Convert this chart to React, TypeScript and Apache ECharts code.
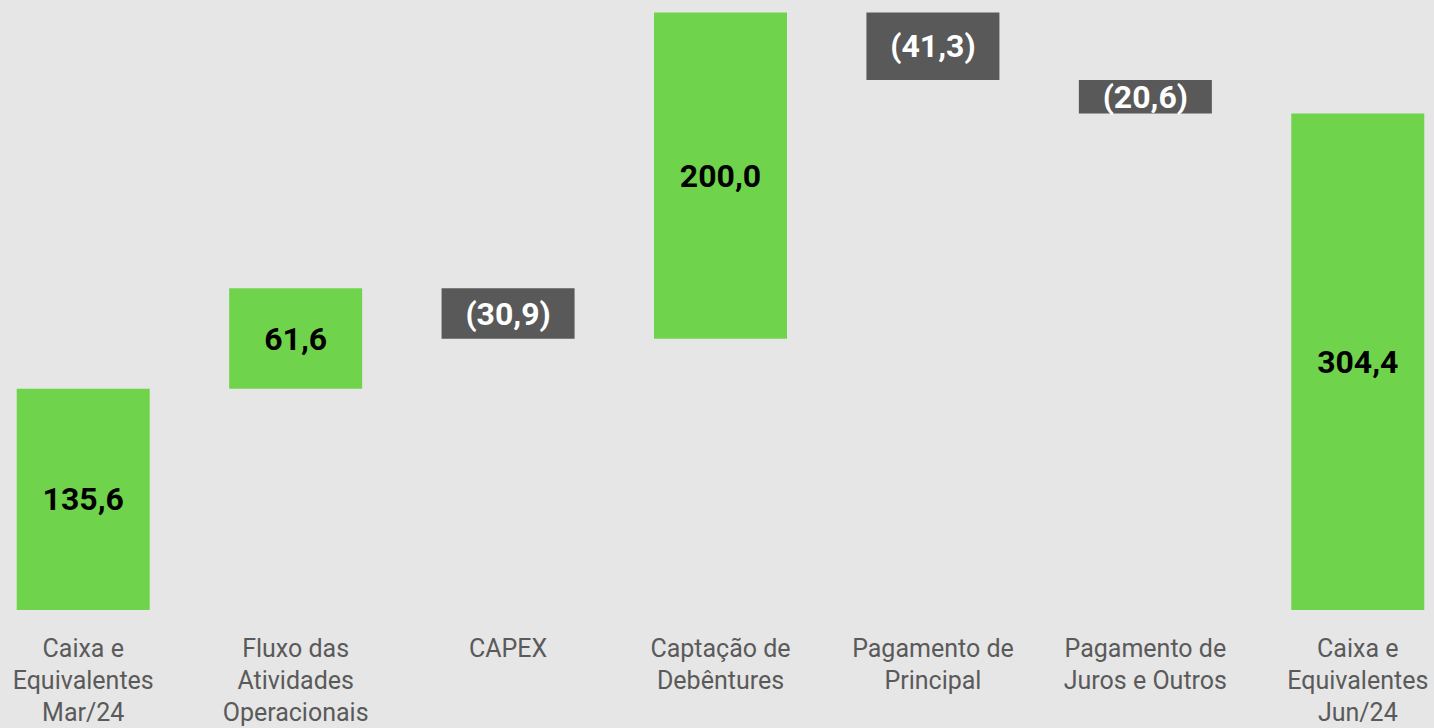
import React, { useEffect, useRef } from "react";
import * as echarts from "echarts";

const categories = [
  "Caixa e\nEquivalentes\nMar/24",
  "Fluxo das\nAtividades\nOperacionais",
  "CAPEX",
  "Captação de\nDebêntures",
  "Pagamento de\nPrincipal",
  "Pagamento de\nJuros e Outros",
  "Caixa e\nEquivalentes\nJun/24",
];
const values = [135.6, 61.6, -30.9, 200.0, -41.3, -20.6, 304.4];
const isTotal = [true, false, false, false, false, false, true];

const GREEN = "#6fd44c";
const GREY = "#595959";

function fmt(v: number) {
  const s = Math.abs(v).toFixed(1).replace(".", ",");
  return v < 0 ? `(${s})` : s;
}

export default function App() {
  const ref = useRef<HTMLDivElement>(null);
  useEffect(() => {
    if (!ref.current) return;
    const chart = echarts.init(ref.current, undefined, { renderer: "svg" });
    const base: number[] = [];
    const size: number[] = [];
    let running = 0;
    values.forEach((v, i) => {
      if (isTotal[i]) {
        base.push(0);
        size.push(v);
        running = v;
      } else if (v >= 0) {
        base.push(running);
        size.push(v);
        running += v;
      } else {
        running += v;
        base.push(running);
        size.push(-v);
      }
    });
    chart.setOption({
      animation: false,
      backgroundColor: "#e6e6e6",
      grid: { left: 0, right: 0, top: 0, bottom: 118, containLabel: false },
      xAxis: {
        type: "category",
        data: categories,
        axisLine: { show: false },
        axisTick: { show: false },
        axisLabel: {
          color: "#5a5a5a",
          fontFamily: "Roboto",
          fontSize: 25,
          lineHeight: 32,
          margin: 22,
          interval: 0,
        },
      },
      yAxis: {
        type: "value",
        min: 0,
        max: 374,
        show: false,
        splitLine: { show: false },
      },
      series: [
        {
          type: "bar",
          stack: "w",
          data: base,
          itemStyle: { color: "transparent" },
          barWidth: 133,
          silent: true,
        },
        {
          type: "bar",
          stack: "w",
          barWidth: 133,
          data: size.map((s, i) => ({
            value: s,
            itemStyle: { color: values[i] < 0 ? GREY : GREEN },
            label: {
              show: true,
              position: "inside",
              formatter: fmt(values[i]),
              color: values[i] < 0 ? "#ffffff" : "#000000",
              fontFamily: "Roboto",
              fontWeight: "bold",
              fontSize: 32,
            },
          })),
        },
      ],
    });
    return () => chart.dispose();
  }, []);
  return (
    <div
      style={{
        position: "absolute",
        left: 0,
        top: 0,
        width: 1434,
        height: 728,
        overflow: "hidden",
        background: "#e6e6e6",
      }}
    >
      <div
        ref={ref}
        style={{ position: "absolute", left: -23, top: 0, width: 1487, height: 728 }}
      />
    </div>
  );
}
